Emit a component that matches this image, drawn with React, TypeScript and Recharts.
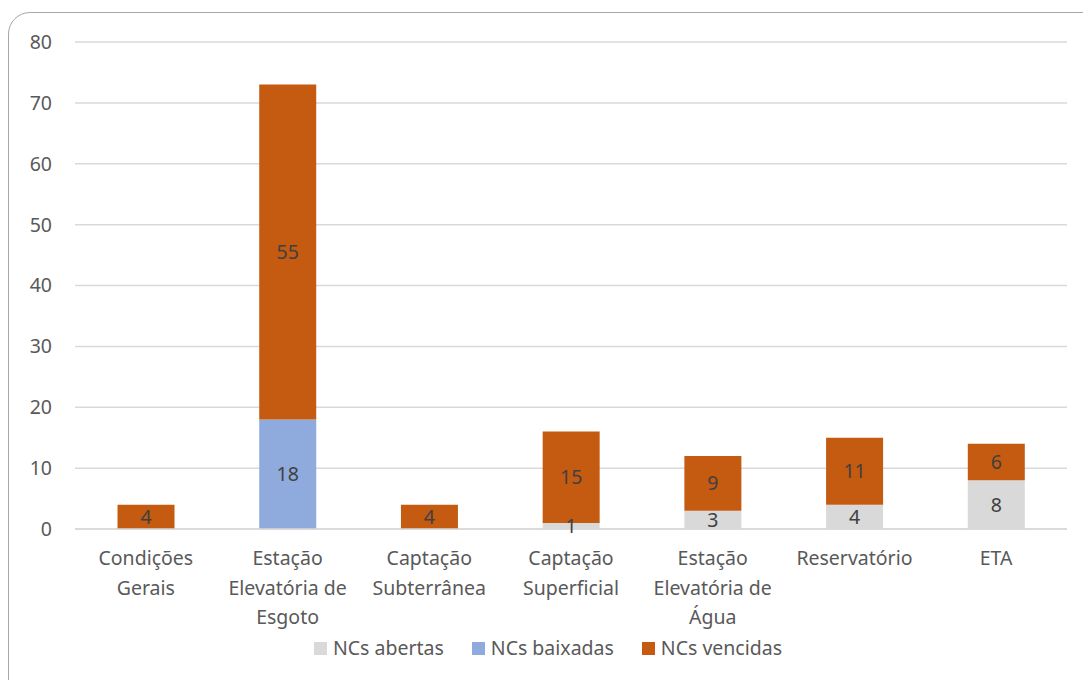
import React from 'react';
import { BarChart, Bar, XAxis, YAxis, CartesianGrid, LabelList } from 'recharts';

const categories = [
  'Condições\nGerais',
  'Estação\nElevatória de\nEsgoto',
  'Captação\nSubterrânea',
  'Captação\nSuperficial',
  'Estação\nElevatória de\nÁgua',
  'Reservatório',
  'ETA',
];
const abertas = [0, 0, 0, 1, 3, 4, 8];
const baixadas = [0, 18, 0, 0, 0, 0, 0];
const vencidas = [4, 55, 4, 15, 9, 11, 6];
const yTicks = [0, 10, 20, 30, 40, 50, 60, 70, 80];

const seriesNames = ['NCs abertas', 'NCs baixadas', 'NCs vencidas'];
const seriesColors = ['#D9D9D9', '#8FAADC', '#C55A11'];

const data = categories.map((c, i) => ({
  name: c,
  abertas: abertas[i],
  baixadas: baixadas[i],
  vencidas: vencidas[i],
}));

const FONT = '"Noto Sans", sans-serif';
const TEXT = '#595959';
const FS = 19.5;

const CatTick = (props: any) => {
  const { x, y, payload } = props;
  const lines = String(payload.value).split('\n');
  return (
    <text x={x} y={y} textAnchor="middle" fill={TEXT} fontFamily={FONT} fontSize={FS}>
      {lines.map((l: string, i: number) => (
        <tspan key={i} x={x} dy={i === 0 ? 28 : 29.5}>
          {l}
        </tspan>
      ))}
    </text>
  );
};

const fmt = (v: any) => (v ? v : '');

export default function App() {
  return (
    <div style={{ position: 'absolute', left: 0, top: 0, width: 1083, height: 680, overflow: 'hidden', background: '#fff' }}>
      <div
        style={{
          position: 'absolute',
          left: 8,
          top: 12,
          width: 1100,
          height: 700,
          border: '1.5px solid #A6A6A6',
          borderRadius: 22,
          boxSizing: 'border-box',
        }}
      />
      <div style={{ position: 'absolute', left: 0, top: 0 }}>
        <BarChart
          width={1083}
          height={680}
          data={data}
          margin={{ top: 42, right: 16, left: 0, bottom: 0 }}
          barCategoryGap="30%"
        >
          <CartesianGrid vertical={false} stroke="#D9D9D9" strokeWidth={1.5} />
          <XAxis
            dataKey="name"
            interval={0}
            height={151}
            axisLine={{ stroke: '#D9D9D9', strokeWidth: 1.5 }}
            tickLine={false}
            tick={<CatTick />}
          />
          <YAxis
            width={75}
            domain={[0, 80]}
            ticks={yTicks}
            axisLine={false}
            tickLine={false}
            tickMargin={17}
            tick={{ fill: TEXT, fontFamily: FONT, fontSize: FS }}
          />
          <Bar dataKey="abertas" stackId="a" fill={seriesColors[0]} isAnimationActive={false}>
            <LabelList dataKey="abertas" position="center" formatter={fmt} fill="#404040" fontFamily={FONT} fontSize={FS} />
          </Bar>
          <Bar dataKey="baixadas" stackId="a" fill={seriesColors[1]} isAnimationActive={false}>
            <LabelList dataKey="baixadas" position="center" formatter={fmt} fill="#404040" fontFamily={FONT} fontSize={FS} />
          </Bar>
          <Bar dataKey="vencidas" stackId="a" fill={seriesColors[2]} isAnimationActive={false}>
            <LabelList dataKey="vencidas" position="center" formatter={fmt} fill="#404040" fontFamily={FONT} fontSize={FS} />
          </Bar>
        </BarChart>
      </div>
      <div
        style={{
          position: 'absolute',
          left: 0,
          top: 634,
          width: 1096,
          display: 'flex',
          justifyContent: 'center',
          fontFamily: FONT,
          fontSize: FS,
          color: TEXT,
          lineHeight: '28px',
        }}
      >
        {seriesNames.map((n, i) => (
          <div key={n} style={{ display: 'flex', alignItems: 'center', marginRight: i < 2 ? 28 : 0 }}>
            <span style={{ width: 13, height: 13, background: seriesColors[i], display: 'inline-block', marginRight: 6 }} />
            <span>{n}</span>
          </div>
        ))}
      </div>
    </div>
  );
}
